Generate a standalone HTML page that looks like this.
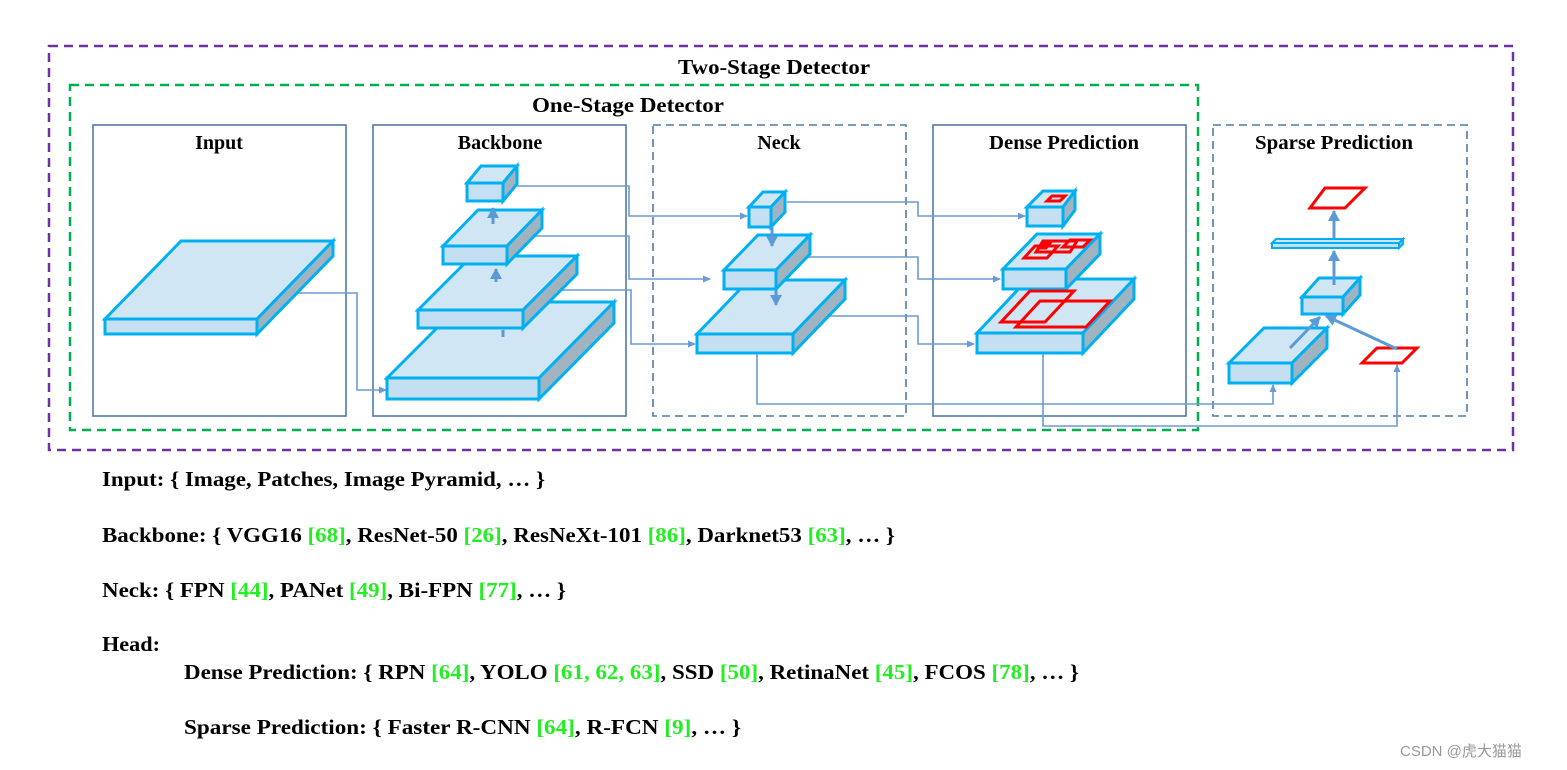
<!DOCTYPE html>
<html><head><meta charset="utf-8"><style>
html,body{margin:0;padding:0;background:#fff;}
svg{display:block;}
text{font-family:"Liberation Serif",serif;font-weight:bold;}
</style></head><body>
<svg width="1567" height="770" viewBox="0 0 1567 770" xmlns="http://www.w3.org/2000/svg">
<defs>
<marker id="a" markerWidth="8" markerHeight="8" refX="7" refY="4" orient="auto" markerUnits="userSpaceOnUse"><path d="M0,0.5 L8,4 L0,7.5 z" fill="#6b9bd2"/></marker>
<marker id="b" markerWidth="12" markerHeight="12" refX="10" refY="6" orient="auto" markerUnits="userSpaceOnUse"><path d="M0,0 L11,6 L0,12 z" fill="#5b9bd5"/></marker>
</defs>
<rect x="49" y="46" width="1464" height="404" fill="none" stroke="#7030a0" stroke-width="2.5" stroke-dasharray="9,6"/>
<rect x="70" y="85" width="1128" height="345" fill="none" stroke="#00b050" stroke-width="2.5" stroke-dasharray="9,6"/>
<text x="774" y="74" font-size="21" text-anchor="middle" textLength="192" lengthAdjust="spacingAndGlyphs">Two-Stage Detector</text>
<text x="628" y="112" font-size="21" text-anchor="middle" textLength="192" lengthAdjust="spacingAndGlyphs">One-Stage Detector</text>
<g fill="none" stroke="#4f7aa6" stroke-width="1.6">
<rect x="93" y="125" width="253" height="291"/>
<rect x="373" y="125" width="253" height="291"/>
<rect x="653" y="125" width="253" height="291" stroke-dasharray="8,5"/>
<rect x="933" y="125" width="253" height="291"/>
<rect x="1213" y="125" width="254" height="291" stroke-dasharray="8,5"/>
</g>
<g font-size="20" text-anchor="middle">
<text x="219" y="149">Input</text>
<text x="500" y="149">Backbone</text>
<text x="779" y="149">Neck</text>
<text x="1064" y="149" textLength="150" lengthAdjust="spacingAndGlyphs">Dense Prediction</text>
<text x="1334" y="149" textLength="158" lengthAdjust="spacingAndGlyphs">Sparse Prediction</text>
</g>
<g fill="none" stroke="#6b9bd2" stroke-width="1.6">
<polyline points="297,293 357,293 357,390 386,390" marker-end="url(#a)"/>
<polyline points="517,186 629,186 629,216 747,216" marker-end="url(#a)"/>
<polyline points="526,236 629,236 629,279 710,279" marker-end="url(#a)"/>
<polyline points="555,290 631,290 631,344 695,344" marker-end="url(#a)"/>
<polyline points="787,202 918,202 918,216 1025,216" marker-end="url(#a)"/>
<polyline points="797,257 918,257 918,279 1000,279" marker-end="url(#a)"/>
<polyline points="820,316 918,316 918,344 974,344" marker-end="url(#a)"/>
<polyline points="757,289 757,404 1273,404 1273,385" marker-end="url(#a)"/>
<polyline points="1043,262 1043,426 1397,426 1397,365" marker-end="url(#a)"/>
</g>
<g stroke="#00b0f0" stroke-width="3" stroke-linejoin="miter">
<polygon points="105,319 181,241 333,241 257,319" fill="#d0e6f4"/>
<polygon points="257,319 333,241 333,256 257,334" fill="#9fb3c0"/>
<rect x="105" y="319" width="152" height="15" fill="#c3dff1"/>
<polygon points="387,378 463,302 614,302 539,378" fill="#d0e6f4"/>
<polygon points="539,378 614,302 614,323 539,399" fill="#9fb3c0"/>
<rect x="387" y="378" width="152" height="21" fill="#c3dff1"/>
<polygon points="418,310 472,256 577,256 523,310" fill="#d0e6f4"/>
<polygon points="523,310 577,256 577,274 523,328" fill="#9fb3c0"/>
<rect x="418" y="310" width="105" height="18" fill="#c3dff1"/>
<polygon points="443,246 478,210 542,210 507,246" fill="#d0e6f4"/>
<polygon points="507,246 542,210 542,228 507,264" fill="#9fb3c0"/>
<rect x="443" y="246" width="64" height="18" fill="#c3dff1"/>
<polygon points="467,183 481,166 517,166 503,183" fill="#d0e6f4"/>
<polygon points="503,183 517,166 517,184 503,201" fill="#9fb3c0"/>
<rect x="467" y="183" width="36" height="18" fill="#c3dff1"/>
<polygon points="697,334 749,280 845,280 793,334" fill="#d0e6f4"/>
<polygon points="793,334 845,280 845,299 793,353" fill="#9fb3c0"/>
<rect x="697" y="334" width="96" height="19" fill="#c3dff1"/>
<polygon points="724,270 758,235 810,235 776,270" fill="#d0e6f4"/>
<polygon points="776,270 810,235 810,254 776,289" fill="#9fb3c0"/>
<rect x="724" y="270" width="52" height="19" fill="#c3dff1"/>
<polygon points="749,207 763,192 785,192 771,207" fill="#d0e6f4"/>
<polygon points="771,207 785,192 785,212 771,227" fill="#9fb3c0"/>
<rect x="749" y="207" width="22" height="20" fill="#c3dff1"/>
<polygon points="977,333 1028,279 1134,279 1083,333" fill="#d0e6f4"/>
<polygon points="1083,333 1134,279 1134,299 1083,353" fill="#9fb3c0"/>
<rect x="977" y="333" width="106" height="20" fill="#c3dff1"/>
<polygon points="1003,269 1037,234 1100,234 1066,269" fill="#d0e6f4"/>
<polygon points="1066,269 1100,234 1100,254 1066,289" fill="#9fb3c0"/>
<rect x="1003" y="269" width="63" height="20" fill="#c3dff1"/>
<polygon points="1027,207 1043,191 1075,191 1063,207" fill="#d0e6f4"/>
<polygon points="1063,207 1075,191 1075,210 1063,226" fill="#9fb3c0"/>
<rect x="1027" y="207" width="36" height="19" fill="#c3dff1"/>
<polygon points="1229,363 1264,328 1327,328 1292,363" fill="#d0e6f4"/>
<polygon points="1292,363 1327,328 1327,348 1292,383" fill="#9fb3c0"/>
<rect x="1229" y="363" width="63" height="20" fill="#c3dff1"/>
<polygon points="1302,297 1319,278 1360,278 1343,297" fill="#d0e6f4"/>
<polygon points="1343,297 1360,278 1360,295 1343,314" fill="#9fb3c0"/>
<rect x="1302" y="297" width="41" height="17" fill="#c3dff1"/>
<polygon points="1272,243 1276,239 1403,239 1399,243" fill="#d0e6f4" stroke-width="2"/>
<rect x="1272" y="243" width="127" height="5" fill="#c3dff1" stroke-width="2"/>
<polygon points="1399,248 1403,244 1403,239 1399,243" fill="#9fb3c0" stroke-width="2"/>
</g>
<g fill="none" stroke="#ff0000" stroke-width="3">
<polygon points="1047,201 1052,196 1065,196 1060,201"/>
<polygon points="1024,258 1035,246 1058,246 1047,258"/>
<polygon points="1036,252 1043,241 1077,241 1070,252"/>
<polygon points="1063,247 1070,240 1090,240 1083,247"/>
<polygon points="1039,248 1043,243 1050,243 1046,248"/>
<polygon points="1001,322 1030,291 1074,291 1045,322"/>
<polygon points="1016,327 1040,301 1110,301 1086,327"/>
<polygon points="1310,208 1325,188 1365,188 1345,208"/>
<polygon points="1362,363 1377,348 1417,348 1402,363"/>
</g>
<g stroke="#5b9bd5" stroke-width="3" fill="none">
<line x1="493" y1="224" x2="493" y2="208" marker-end="url(#b)"/>
<line x1="496" y1="282" x2="496" y2="269" marker-end="url(#b)"/>
<line x1="503" y1="330" x2="503" y2="337"/>
<line x1="772" y1="227" x2="772" y2="246" marker-end="url(#b)"/>
<line x1="776" y1="290" x2="776" y2="305" marker-end="url(#b)"/>
<line x1="1290" y1="348" x2="1320" y2="317" marker-end="url(#b)"/>
<line x1="1397" y1="349" x2="1326" y2="316" marker-end="url(#b)"/>
<line x1="1334" y1="285" x2="1334" y2="251" marker-end="url(#b)"/>
<line x1="1334" y1="238" x2="1334" y2="211" marker-end="url(#b)"/>
</g>
<g font-size="21.5" fill="#000">
<text x="102" y="486" textLength="443" lengthAdjust="spacingAndGlyphs">Input: { Image, Patches, Image Pyramid, … }</text>
<text x="102" y="542" textLength="793" lengthAdjust="spacingAndGlyphs">Backbone: { VGG16 <tspan fill="#22ee22">[68]</tspan>, ResNet-50 <tspan fill="#22ee22">[26]</tspan>, ResNeXt-101 <tspan fill="#22ee22">[86]</tspan>, Darknet53 <tspan fill="#22ee22">[63]</tspan>, … }</text>
<text x="102" y="597" textLength="464" lengthAdjust="spacingAndGlyphs">Neck: { FPN <tspan fill="#22ee22">[44]</tspan>, PANet <tspan fill="#22ee22">[49]</tspan>, Bi-FPN <tspan fill="#22ee22">[77]</tspan>, … }</text>
<text x="102" y="651" textLength="58" lengthAdjust="spacingAndGlyphs">Head:</text>
<text x="184" y="679" textLength="895" lengthAdjust="spacingAndGlyphs">Dense Prediction: { RPN <tspan fill="#22ee22">[64]</tspan>, YOLO <tspan fill="#22ee22">[61, 62, 63]</tspan>, SSD <tspan fill="#22ee22">[50]</tspan>, RetinaNet <tspan fill="#22ee22">[45]</tspan>, FCOS <tspan fill="#22ee22">[78]</tspan>, … }</text>
<text x="184" y="734" textLength="557" lengthAdjust="spacingAndGlyphs">Sparse Prediction: { Faster R-CNN <tspan fill="#22ee22">[64]</tspan>,  R-FCN <tspan fill="#22ee22">[9]</tspan>, … }</text>
</g>
<text x="1400" y="756" font-size="15" fill="#999" style="font-family:'Liberation Sans','Noto Sans CJK SC',sans-serif;font-weight:normal">CSDN @虎大猫猫</text>
</svg>
</body></html>
